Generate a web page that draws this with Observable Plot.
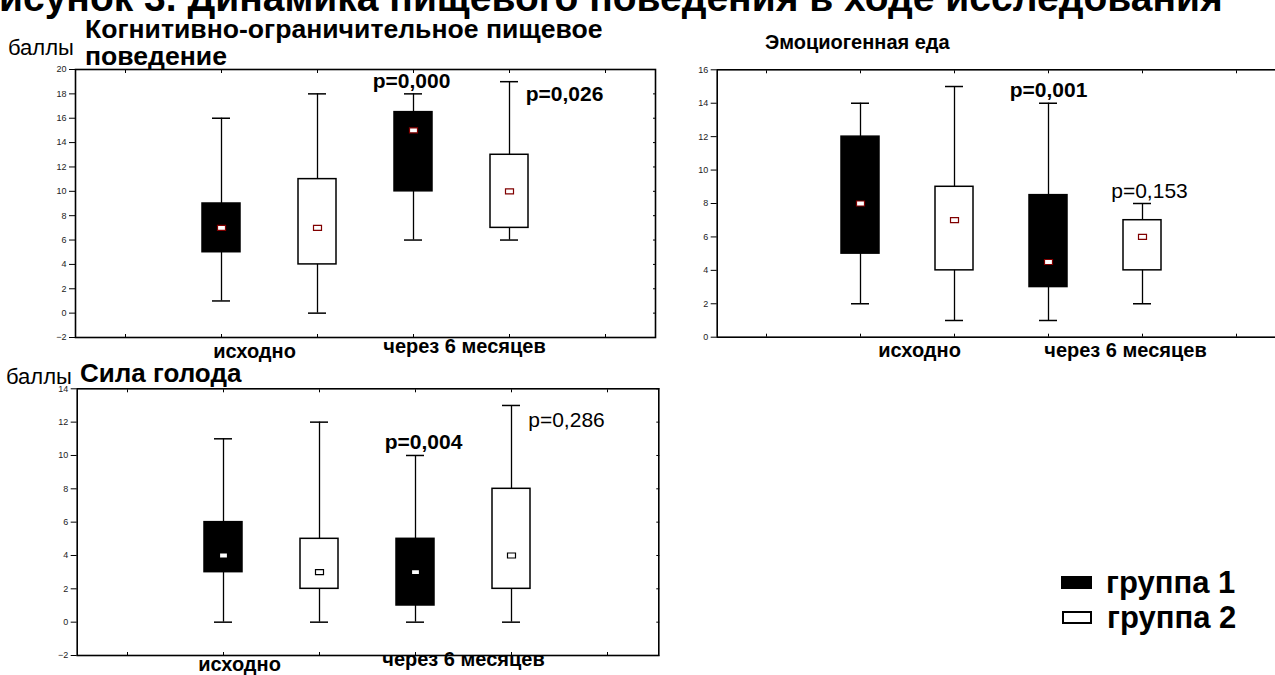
<!DOCTYPE html>
<html><head><meta charset="utf-8">
<script src="https://cdn.jsdelivr.net/npm/d3@7"></script>
<script src="https://cdn.jsdelivr.net/npm/@observablehq/plot@0.6"></script>
<style>
body{margin:0;width:1275px;height:675px;overflow:hidden;background:#fff;position:relative;font-family:"Liberation Sans",Arial,sans-serif;color:#000;}
.abs{position:absolute;white-space:nowrap;}
svg{overflow:visible;}
.b{font-weight:bold;}
</style></head><body>
<div id="title" class="abs b" style="left:-27px;top:-22px;font-size:39px;line-height:39px;">Рисунок 3. Динамика пищевого поведения в ходе исследования</div>
<div class="abs" style="left:8px;top:36px;font-size:22px;line-height:24px;">баллы</div>
<div class="abs b" style="left:85px;top:16px;font-size:26.6px;line-height:27px;">Когнитивно-ограничительное пищевое<br>поведение</div>
<div class="abs b" style="left:765px;top:30px;font-size:20px;line-height:24px;">Эмоциогенная еда</div>
<div class="abs" style="left:6px;top:365px;font-size:22px;line-height:24px;">баллы</div>
<div class="abs b" style="left:80px;top:359px;font-size:26px;line-height:28px;">Сила голода</div>
<div id="p1" class="abs" style="left:0;top:60px;width:670px;"></div>
<div id="p2" class="abs" style="left:640px;top:60px;width:660px;"></div>
<div id="p3" class="abs" style="left:0;top:375px;width:670px;"></div>
<div id="legend" class="abs" style="left:1060px;top:565px;"></div>
<script>
// ---- data ----
const slots = ["s0", "g1_0", "g2_0", "g1_6", "g2_6", "s5"];
const boxKeys = ["g1_0", "g2_0", "g1_6", "g2_6"];
const groupNames = ["группа 1", "группа 2"];
const boxGroups = ["группа 1", "группа 2", "группа 1", "группа 2"];
const timeLabels = ["исходно", "через 6 месяцев"];

// Когнитивно-ограничительное пищевое поведение
const cogLow  = [1, 0, 6, 6];
const cogQ1   = [5, 4, 10, 7];
const cogMed  = [7, 7, 15, 10];
const cogQ3   = [9, 11, 16.5, 13];
const cogHigh = [16, 18, 18, 19];
const cogP    = ["p=0,000", "p=0,026"];
const cogTicks = [-2, 0, 2, 4, 6, 8, 10, 12, 14, 16, 18, 20];

// Эмоциогенная еда
const emoLow  = [2, 1, 1, 2];
const emoQ1   = [5, 4, 3, 4];
const emoMed  = [8, 7, 4.5, 6];
const emoQ3   = [12, 9, 8.5, 7];
const emoHigh = [14, 15, 14, 8];
const emoP    = ["p=0,001", "p=0,153"];
const emoTicks = [0, 2, 4, 6, 8, 10, 12, 14, 16];

// Сила голода
const hunLow  = [0, 0, 0, 0];
const hunQ1   = [3, 2, 1, 2];
const hunMed  = [4, 3, 3, 4];
const hunQ3   = [6, 5, 5, 8];
const hunHigh = [11, 12, 10, 13];
const hunP    = ["p=0,004", "p=0,286"];
const hunTicks = [-2, 0, 2, 4, 6, 8, 10, 12, 14];

const groupFill = ["black", "white"];

// ---- drawing ----
const medSymbol = {draw(ctx) { ctx.rect(-4, -2.5, 8, 5); }};
const FONT = '"Liberation Sans", Arial, sans-serif';

function panel(cfg) {
  const rows = boxKeys.map((k, i) => ({
    key: k, group: boxGroups[i],
    low: cfg.low[i], q1: cfg.q1[i], med: cfg.med[i], q3: cfg.q3[i], high: cfg.high[i]
  }));
  const timeRows = timeLabels.map((t, i) => ({text: t, key: ["g1_0", "g1_6"][i]}));
  const noText = () => "";
  const pMarks = cfg.p.map((t, i) => {
    const a = cfg.pAnchor[i];
    return Plot.text([{text: t, key: a.key, y: a.y}], {x: "key", y: "y", text: "text", dx: a.dx,
      fontSize: 21, fontWeight: a.bold ? "bold" : "normal", textAnchor: "middle", fill: "black"});
  });
  const tMarks = timeRows.map((d, i) => Plot.text([d], {x: "key", text: "text", frameAnchor: "bottom",
    dx: cfg.tdx[i], dy: cfg.tdy[i], fontSize: 20, fontWeight: "bold", fill: "black"}));
  return Plot.plot({
    width: cfg.width, height: cfg.height,
    marginLeft: cfg.ml, marginRight: cfg.mr, marginTop: cfg.mt, marginBottom: cfg.mb,
    style: {fontFamily: FONT, background: "transparent", color: "black", overflow: "visible"},
    x: {type: "band", domain: slots, paddingInner: 0.6, paddingOuter: 0.3},
    y: {domain: cfg.yDomain},
    color: {domain: groupNames, range: groupFill},
    marks: [
      Plot.axisY({ticks: cfg.ticks, tickSize: 6, tickPadding: 3, fontSize: 9, label: null, fill: "#222"}),
      Plot.axisY({anchor: "right", ticks: cfg.ticks, tickSize: -3, tickFormat: noText, label: null}),
      Plot.axisX({anchor: "top", tickSize: -3, tickFormat: noText, label: null}),
      Plot.axisX({anchor: "bottom", tickSize: -3, tickFormat: noText, label: null}),
      Plot.ruleX(rows, {x: "key", y1: "low", y2: "high", stroke: "black", strokeWidth: 1.3}),
      Plot.tickY(rows, {x: "key", y: "low", inset: 10, stroke: "black", strokeWidth: 1.5}),
      Plot.tickY(rows, {x: "key", y: "high", inset: 10, stroke: "black", strokeWidth: 1.5}),
      Plot.barY(rows, {x: "key", y1: "q1", y2: "q3", fill: "group", stroke: "black", strokeWidth: 1.5}),
      Plot.dot(rows, {x: "key", y: "med", symbol: medSymbol, fill: "white", stroke: cfg.medStroke, strokeWidth: 1.2}),
      ...pMarks,
      Plot.frame({stroke: "black", strokeWidth: 1.6}),
      ...tMarks
    ]
  });
}

document.getElementById("p1").append(panel({
  low: cogLow, q1: cogQ1, med: cogMed, q3: cogQ3, high: cogHigh, p: cogP,
  yDomain: [-2, 20], ticks: cogTicks,
  width: 670, height: 310, ml: 75, mr: 15, mt: 9, mb: 33,
  pAnchor: [{key: "g1_6", y: 19, dx: -2, bold: true},
            {key: "g2_6", y: 18, dx: 55, bold: true}],
  tdx: [33, 51], tdy: [20, 15], medStroke: "#800000"
}));
document.getElementById("p2").append(panel({
  low: emoLow, q1: emoQ1, med: emoMed, q3: emoQ3, high: emoHigh, p: emoP,
  yDomain: [0, 16], ticks: emoTicks,
  width: 660, height: 310, ml: 76.7, mr: 15.3, mt: 9.3, mb: 33.3,
  pAnchor: [{key: "g1_6", y: 14.8, dx: 0, bold: true},
            {key: "g2_6", y: 8.75, dx: 7, bold: false}],
  tdx: [59, 77], tdy: [20, 20], medStroke: "#800000"
}));
document.getElementById("p3").append(panel({
  low: hunLow, q1: hunQ1, med: hunMed, q3: hunQ3, high: hunHigh, p: hunP,
  yDomain: [-2, 14], ticks: hunTicks,
  width: 670, height: 300, ml: 76.7, mr: 11.7, mt: 13.3, mb: 20,
  pAnchor: [{key: "g1_6", y: 10.8, dx: 8, bold: true},
            {key: "g2_6", y: 12.1, dx: 55, bold: false}],
  tdx: [16, 48], tdy: [15, 10], medStroke: "black"
}));

// legend
const leg = document.getElementById("legend");
groupNames.forEach((g, i) => {
  const row = document.createElement("div");
  row.style.cssText = "display:flex;align-items:center;height:35px;";
  const sw = document.createElement("div");
  sw.style.cssText = `width:${i ? 26 : 31}px;height:${i ? 9 : 13}px;background:${groupFill[i]};border:${i ? 2 : 0}px solid black;margin-right:${i ? 15 : 14}px;margin-left:${i ? 2 : 1}px;`;
  const tx = document.createElement("span");
  tx.className = "b";
  tx.style.cssText = "font-size:31px;line-height:35px;";
  tx.textContent = g;
  row.append(sw, tx);
  leg.append(row);
});
</script>
</body></html>
